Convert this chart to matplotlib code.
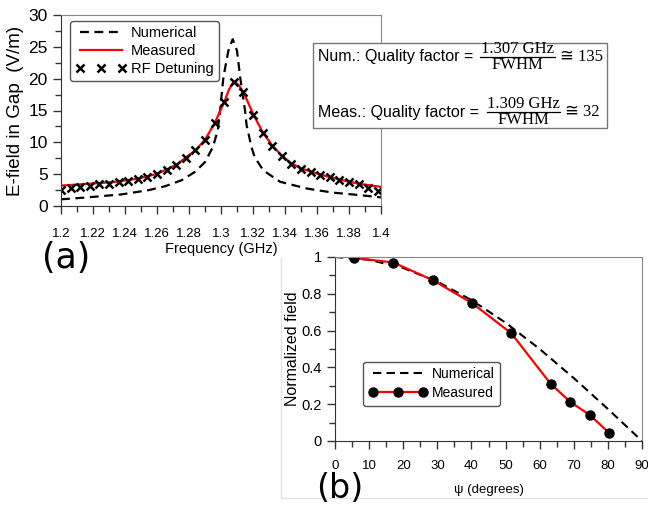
import matplotlib.pyplot as plt
from matplotlib.lines import Line2D
from matplotlib.patches import Rectangle
from matplotlib.ticker import MultipleLocator

plt.rcParams['font.family'] = ['Liberation Sans', 'DejaVu Sans']

# (a) E-field in gap vs frequency
f_rf = [1.200, 1.206, 1.212, 1.218, 1.224, 1.230, 1.236, 1.242, 1.248, 1.254,
        1.260, 1.266, 1.272, 1.278, 1.284, 1.290, 1.296, 1.302, 1.308, 1.314,
        1.320, 1.326, 1.332, 1.338, 1.344, 1.350, 1.356, 1.362, 1.368, 1.374,
        1.380, 1.386, 1.392, 1.398]
e_rf = [2.5, 2.76, 3.0, 3.2, 3.4, 3.5, 3.7, 3.95, 4.3, 4.6,
        5.05, 5.6, 6.45, 7.5, 8.75, 10.4, 13.0, 16.3, 19.4, 17.9,
        14.3, 11.5, 9.4, 7.8, 6.55, 5.8, 5.3, 4.9, 4.5, 4.05,
        3.7, 3.4, 2.9, 2.4]

f_meas = [1.200, 1.212, 1.224, 1.236, 1.248, 1.260, 1.272, 1.284, 1.290, 1.296,
          1.302, 1.305, 1.308, 1.311, 1.314, 1.320, 1.326, 1.332, 1.338, 1.344,
          1.350, 1.362, 1.374, 1.386, 1.400]
e_meas = [3.2, 3.4, 3.6, 3.85, 4.3, 5.05, 6.45, 8.75, 10.4, 13.0,
          16.3, 18.3, 19.6, 19.0, 17.9, 14.5, 11.6, 9.5, 7.9, 6.7,
          5.9, 4.95, 4.15, 3.5, 3.0]

f_num = [1.200, 1.217, 1.238, 1.255, 1.265, 1.2755, 1.284, 1.290, 1.295, 1.298,
         1.2994, 1.3015, 1.3046, 1.3073, 1.310, 1.312, 1.315, 1.316, 1.319, 1.321,
         1.3264, 1.337, 1.3535, 1.370, 1.387, 1.400]
e_num = [1.05, 1.36, 1.83, 2.5, 3.1, 4.06, 5.4, 6.9, 9.3, 11.9,
         15.0, 20.2, 24.4, 26.2, 24.4, 20.2, 15.0, 12.7, 9.3, 7.7,
         5.6, 3.8, 2.75, 2.1, 1.7, 1.35]

# (b) normalized field vs psi
psi_num = [0, 10, 20, 30, 40, 50, 60, 70, 80, 90]
n_num = [1.0, 0.985, 0.94, 0.866, 0.766, 0.643, 0.5, 0.342, 0.174, 0.0]
psi_meas = [5.6, 17.1, 28.6, 40.3, 51.7, 63.2, 69.0, 74.8, 80.4]
n_meas = [0.995, 0.97, 0.875, 0.748, 0.585, 0.311, 0.212, 0.14, 0.043]

W, H = 648, 508
fig = plt.figure(figsize=(W / 100, H / 100), dpi=100)


def box(l, t, r, b):
    return [l / W, 1 - b / H, (r - l) / W, (b - t) / H]


def style(ax):
    for s in ['top', 'right']:
        ax.spines[s].set_color('#888888')
    for s in ['left', 'bottom']:
        ax.spines[s].set_color('#333333')
    ax.tick_params(which='both', direction='out', top=False, right=False,
                   color='#333333', width=1)
    ax.tick_params(which='major', length=6)
    ax.tick_params(which='minor', length=4)


# ---- panel (a)
ax1 = fig.add_axes(box(61, 15, 381, 206))
style(ax1)
ax1.plot(f_num, e_num, '--', color='black', lw=1.6, dashes=(4, 2.5))
ax1.plot(f_meas, e_meas, '-', color='red', lw=1.6)
ax1.plot(f_rf, e_rf, 'x', color='black', ms=6, mew=1.8)
ax1.set_xlim(1.2, 1.4)
ax1.set_ylim(0, 30)
ax1.xaxis.set_minor_locator(MultipleLocator(0.01))
ax1.yaxis.set_major_locator(MultipleLocator(5))
ax1.yaxis.set_minor_locator(MultipleLocator(2.5))
ax1.set_xticks([1.2 + 0.02 * i for i in range(11)])
ax1.set_xticklabels(['1.2', '1.22', '1.24', '1.26', '1.28', '1.3', '1.32',
                     '1.34', '1.36', '1.38', '1.4'], fontsize=9.5)
ax1.tick_params(axis='x', pad=10)
ax1.tick_params(axis='y', labelsize=12.5)
ax1.set_xlabel('Frequency (GHz)', fontsize=10.5, labelpad=1)
ax1.set_ylabel('E-field in Gap  (V/m)', fontsize=13.5, labelpad=3)

h1 = [Line2D([], [], ls='--', color='black', lw=1.6, dashes=(4, 2.5)),
      Line2D([], [], color='red', lw=1.6),
      Line2D([], [], ls='none', marker='x', color='black', ms=6, mew=1.8)]
leg1 = ax1.legend(h1, ['Numerical', 'Measured', 'RF Detuning'],
                  loc='upper left', bbox_to_anchor=(0.015, 0.99), fontsize=10.5,
                  handlelength=3.5, numpoints=3, frameon=True, fancybox=True,
                  borderpad=0.35, labelspacing=0.25, handletextpad=0.3,
                  borderaxespad=0.3)
leg1.get_frame().set_edgecolor('#555555')
leg1.get_frame().set_alpha(1)

fig.text(42 / W, 1 - 258 / H, '(a)', fontsize=25, family='DejaVu Sans',
         va='center', ha='left')

# ---- quality factor box
fig.patches.append(Rectangle((313 / W, 1 - 128 / H), 294 / W, 85 / H,
                             transform=fig.transFigure, fill=True,
                             facecolor='white', edgecolor='#777777', lw=1))
rows = [(57, 'Num.: Quality factor =', '1.307 GHz', '\u2245 135', 480, 555),
        (112, 'Meas.: Quality factor =', '1.309 GHz', '\u2245 32', 487, 560)]
for yc, lab, numer, res, x0, x1 in rows:
    fig.text(318 / W, 1 - yc / H, lab, fontsize=11.5, va='center', ha='left')
    xm = (x0 + x1) / 2
    fig.add_artist(Line2D([x0 / W, x1 / W], [1 - yc / H, 1 - yc / H],
                          transform=fig.transFigure, color='black', lw=0.9))
    fig.text(xm / W, 1 - (yc - 8) / H, numer, fontsize=12,
             family='Liberation Serif', ha='center', va='center')
    fig.text(xm / W, 1 - (yc + 8) / H, 'FWHM', fontsize=12,
             family='Liberation Serif', ha='center', va='center')
    fig.text((x1 + 5) / W, 1 - yc / H, res, fontsize=12,
             family=['Liberation Serif', 'DejaVu Sans'], ha='left', va='center')

# ---- panel (b)
ax2 = fig.add_axes(box(335, 257, 642, 441))
style(ax2)
ax2.plot(psi_num, n_num, '--', color='black', lw=1.5, dashes=(4, 2.5))
ax2.errorbar(psi_meas, n_meas, xerr=1.5, fmt='-o', color='red', ms=6.5,
             mfc='black', mec='black', lw=1.6, ecolor='#bbbbbb', elinewidth=0.8,
             capsize=0)
ax2.set_xlim(0, 90)
ax2.set_ylim(0, 1)
ax2.xaxis.set_major_locator(MultipleLocator(10))
ax2.xaxis.set_minor_locator(MultipleLocator(5))
ax2.yaxis.set_minor_locator(MultipleLocator(0.1))
ax2.set_yticks([0, 0.2, 0.4, 0.6, 0.8, 1.0])
ax2.set_yticklabels(['0', '0.2', '0.4', '0.6', '0.8', '1'])
ax2.tick_params(axis='y', labelsize=10.5)
ax2.tick_params(axis='x', labelsize=9.5, pad=8)
ax2.set_xlabel('\u03c8 (degrees)', fontsize=9.5, labelpad=8)
ax2.set_ylabel('Normalized field', fontsize=11.5, labelpad=1)

h2 = [Line2D([], [], ls='--', color='black', lw=1.5, dashes=(4, 2.5)),
      Line2D([], [], ls='-', marker='o', color='red', mfc='black', mec='black',
             ms=6.5, lw=1.6)]
leg2 = ax2.legend(h2, ['Numerical', 'Measured'], loc='lower left',
                  bbox_to_anchor=(0.07, 0.155), fontsize=10, handlelength=4.2,
                  numpoints=3, frameon=True, fancybox=True, borderpad=0.4,
                  labelspacing=0.35, handletextpad=0.3)
leg2.get_frame().set_edgecolor('#555555')
leg2.get_frame().set_alpha(1)

fig.text(316 / W, 1 - 489 / H, '(b)', fontsize=24, family='DejaVu Sans',
         va='center', ha='left')

# faint crop edges of the pasted panels
fig.add_artist(Line2D([281 / W, 281 / W], [1 - 258 / H, 1 - 498 / H],
                      transform=fig.transFigure, color='#e4e4e4', lw=1))
fig.add_artist(Line2D([281 / W, 648 / W], [1 - 498 / H, 1 - 498 / H],
                      transform=fig.transFigure, color='#e4e4e4', lw=1))

fig.savefig('out.png', dpi=100)
